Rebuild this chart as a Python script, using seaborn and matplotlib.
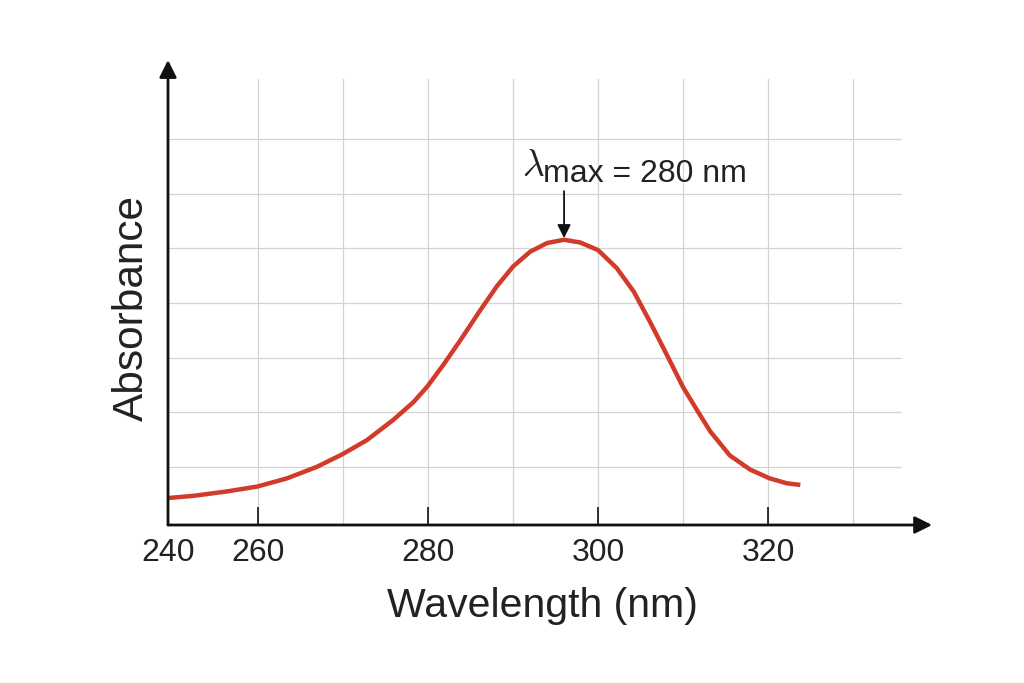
import matplotlib
matplotlib.use("Agg")
import matplotlib.pyplot as plt
import seaborn as sns

# curve
wavelength = [249.4, 252.4, 256.3, 259.9, 263.4, 266.9, 269.9, 272.8, 275.9, 278.3, 279.9,
              281.8, 283.8, 286.1, 288.1, 290.0, 292.0, 294.0, 296.0, 297.9, 300.0, 302.2,
              304.2, 306.1, 308.1, 310.0, 311.6, 313.2, 315.5, 317.9, 320.2, 322.2, 323.8]
absorbance = [0.043, 0.047, 0.055, 0.064, 0.079, 0.100, 0.123, 0.149, 0.186, 0.219, 0.247,
              0.287, 0.332, 0.386, 0.431, 0.467, 0.494, 0.510, 0.516, 0.511, 0.497, 0.464,
              0.421, 0.366, 0.305, 0.246, 0.205, 0.165, 0.121, 0.095, 0.079, 0.070, 0.067]

tick_pos = [249.4, 260, 280, 300, 320]
tick_labels = ['240', '260', '280', '300', '320']
minor_pos = [270, 290, 310, 330]
y_grid = [0.1, 0.2, 0.3, 0.4, 0.5, 0.6, 0.7]

peak_x, peak_y = 296.0, 0.519

sns.set_theme(style='white')
plt.rcParams['font.family'] = ['Liberation Sans', 'DejaVu Sans']

fig = plt.figure(figsize=(10.24, 6.83), dpi=100)
ax = fig.add_axes([168 / 1024, 158 / 683, 734 / 1024, 446 / 683])

sns.lineplot(x=wavelength, y=absorbance, ax=ax, color='#d23a2a', lw=3.2, zorder=3,
             solid_joinstyle='round', solid_capstyle='butt')

ax.set_xlim(249.4, 335.76)
ax.set_ylim(-0.0064, 0.8104)

ax.set_xticks(tick_pos)
ax.set_xticklabels(tick_labels)
ax.set_xticks(minor_pos, minor=True)
ax.set_yticks(y_grid)
ax.set_yticklabels([])

ax.tick_params(axis='x', which='major', direction='in', length=13, width=1.2,
               color='#111111', labelsize=23, pad=9.5, labelcolor='#222222', bottom=True)
ax.tick_params(axis='x', which='minor', length=0)
ax.tick_params(axis='y', length=0)

ax.grid(True, which='both', color='#d4d4d4', lw=0.9)
ax.set_axisbelow(True)
for s in ax.spines.values():
    s.set_visible(False)

# axis arrows
arrow = dict(arrowstyle='-|>', lw=2.0, color='#111111', mutation_scale=26, shrinkA=0, shrinkB=0)
ax.annotate('', xy=(0, 1.0426), xytext=(0, 0), xycoords='axes fraction',
            arrowprops=arrow, annotation_clip=False)
ax.annotate('', xy=(1.041, 0), xytext=(0, 0), xycoords='axes fraction',
            arrowprops=arrow, annotation_clip=False)

ax.set_xlabel('Wavelength (nm)', fontsize=29.5, color='#222222')
ax.set_ylabel('Absorbance', fontsize=30.5, color='#222222')
ax.xaxis.set_label_coords(0.5095, -0.139)
ax.yaxis.set_label_coords(-0.022, 0.4865)

# peak annotation
ax.annotate('', xy=(peak_x, peak_y), xytext=(peak_x, 0.605),
            arrowprops=dict(arrowstyle='-|>', lw=1.3, color='#111111', mutation_scale=20,
                            shrinkA=0, shrinkB=0))
ax.text(291.0, 0.632, r'$\lambda$', fontsize=27, math_fontfamily='cm',
        ha='left', va='baseline', color='#222222')
ax.text(293.5, 0.622, 'max = 280 nm', fontsize=23, ha='left', va='baseline', color='#222222')

fig.savefig('out.png', dpi=100, facecolor='white')
